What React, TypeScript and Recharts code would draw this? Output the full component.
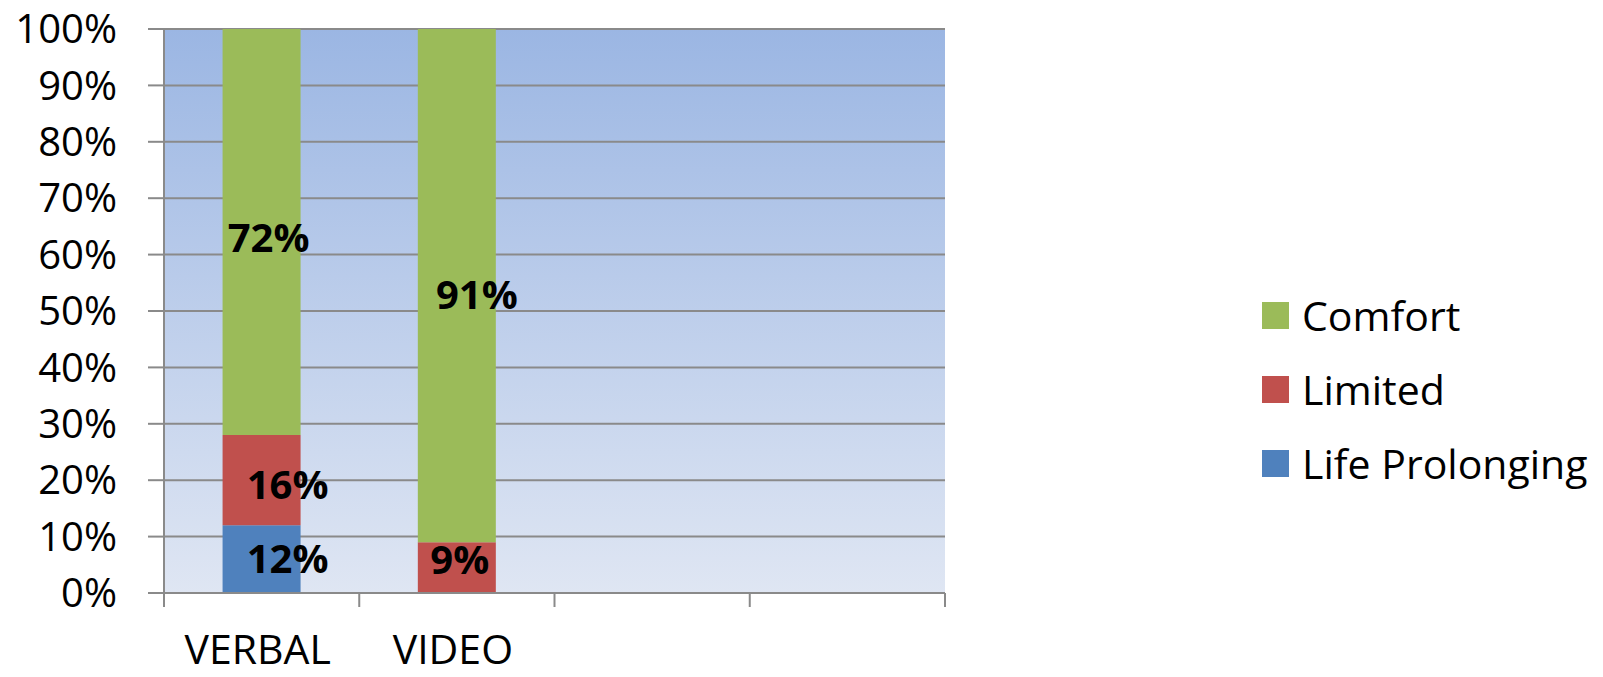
import { BarChart, Bar, XAxis, YAxis, CartesianGrid, LabelList, Legend } from "recharts";

// values (share of responses)
const CATEGORIES = ["VERBAL", "VIDEO", "", ""];
const LIFE_PROLONGING = [0.12, 0, null, null];
const LIMITED = [0.16, 0.09, null, null];
const COMFORT = [0.72, 0.91, null, null];
const Y_TICKS = [0, 0.1, 0.2, 0.3, 0.4, 0.5, 0.6, 0.7, 0.8, 0.9, 1];
const LEGEND_ORDER = ["Comfort", "Limited", "Life Prolonging"];

const data = CATEGORIES.map((name, i) => ({
  name,
  lifeProlonging: LIFE_PROLONGING[i],
  limited: LIMITED[i],
  comfort: COMFORT[i],
}));

const FONT = "'Open Sans', sans-serif";
const AXIS = "#8a8a8a";
const PLOT_LEFT = 164;
const PLOT_RIGHT = 945;
const BAND = (PLOT_RIGHT - PLOT_LEFT) / CATEGORIES.length;

// Excel left the data labels slightly off-centre; nudge them the same way
const NUDGE: Record<string, [number, number]> = {
  "comfort-0": [7, 4],
  "comfort-1": [20, 8],
  "limited-0": [26, 3],
  "limited-1": [3, -9],
  "lifeProlonging-0": [26, -2],
};

const pct = (v: number) => `${Math.round(v * 100)}%`;

function segLabel(key: string) {
  return (p: any) => {
    const { x, y, width, height, value, index } = p;
    if (!value) return null;
    const [dx, dy] = NUDGE[`${key}-${index}`] || [0, 0];
    return (
      <text
        x={x + width / 2 + dx}
        y={y + height / 2 + dy}
        textAnchor="middle"
        dominantBaseline="central"
        fontFamily={FONT}
        fontWeight={700}
        fontSize={40}
        fill="#000"
      >
        {pct(value)}
      </text>
    );
  };
}

function CatTick({ x, y, payload, index }: any) {
  const left = x - BAND / 2;
  return (
    <g>
      <line x1={left} x2={left} y1={y} y2={y + 14} stroke={AXIS} strokeWidth={2} />
      {index === CATEGORIES.length - 1 && (
        <line x1={x + BAND / 2} x2={x + BAND / 2} y1={y} y2={y + 14} stroke={AXIS} strokeWidth={2} />
      )}
      <text x={x - 4} y={y + 71} textAnchor="middle" fontFamily={FONT} fontSize={41} fill="#000">
        {payload.value}
      </text>
    </g>
  );
}

function LegendBox({ payload }: any) {
  const items = [...(payload || [])].sort(
    (a: any, b: any) => LEGEND_ORDER.indexOf(a.value) - LEGEND_ORDER.indexOf(b.value)
  );
  return (
    <div style={{ fontFamily: FONT, fontSize: 41, color: "#000" }}>
      {items.map((it: any) => (
        <div key={it.value} style={{ display: "flex", alignItems: "center", height: 74 }}>
          <span style={{ width: 27, height: 27, background: it.color, display: "inline-block", marginRight: 13 }} />
          <span style={{ lineHeight: "41px" }}>{it.value}</span>
        </div>
      ))}
    </div>
  );
}

export default function App() {
  return (
    <div style={{ position: "absolute", left: 0, top: 0 }}>
      <BarChart
        width={1603}
        height={677}
        data={data}
        margin={{ top: 29, right: 1603 - PLOT_RIGHT, left: 0, bottom: 0 }}
        barCategoryGap="30%"
      >
        <defs>
          <linearGradient id="plotBg" x1="0" y1="0" x2="0" y2="1">
            <stop offset="0%" stopColor="#9bb6e3" />
            <stop offset="100%" stopColor="#dfe6f3" />
          </linearGradient>
        </defs>
        <CartesianGrid vertical={false} stroke={AXIS} strokeWidth={2} fill="url(#plotBg)" fillOpacity={1} />
        <XAxis
          dataKey="name"
          height={84}
          interval={0}
          tickSize={0}
          tickMargin={0}
          tickLine={false}
          axisLine={{ stroke: AXIS, strokeWidth: 2 }}
          tick={<CatTick />}
        />
        <YAxis
          width={PLOT_LEFT}
          domain={[0, 1]}
          ticks={Y_TICKS}
          tickFormatter={pct}
          tickSize={16}
          tickMargin={31}
          tickLine={{ stroke: AXIS, strokeWidth: 2 }}
          axisLine={{ stroke: AXIS, strokeWidth: 2 }}
          tick={{ fontFamily: FONT, fontSize: 40, fill: "#000" }}
        />
        <Legend
          layout="vertical"
          align="center"
          verticalAlign="middle"
          wrapperStyle={{ position: "absolute", left: 1262, top: 278, width: 340 }}
          content={<LegendBox />}
        />
        <Bar dataKey="lifeProlonging" name="Life Prolonging" stackId="a" fill="#4f81bd" isAnimationActive={false}>
          <LabelList dataKey="lifeProlonging" content={segLabel("lifeProlonging")} />
        </Bar>
        <Bar dataKey="limited" name="Limited" stackId="a" fill="#c0504d" isAnimationActive={false}>
          <LabelList dataKey="limited" content={segLabel("limited")} />
        </Bar>
        <Bar dataKey="comfort" name="Comfort" stackId="a" fill="#9bbb59" isAnimationActive={false}>
          <LabelList dataKey="comfort" content={segLabel("comfort")} />
        </Bar>
      </BarChart>
    </div>
  );
}
